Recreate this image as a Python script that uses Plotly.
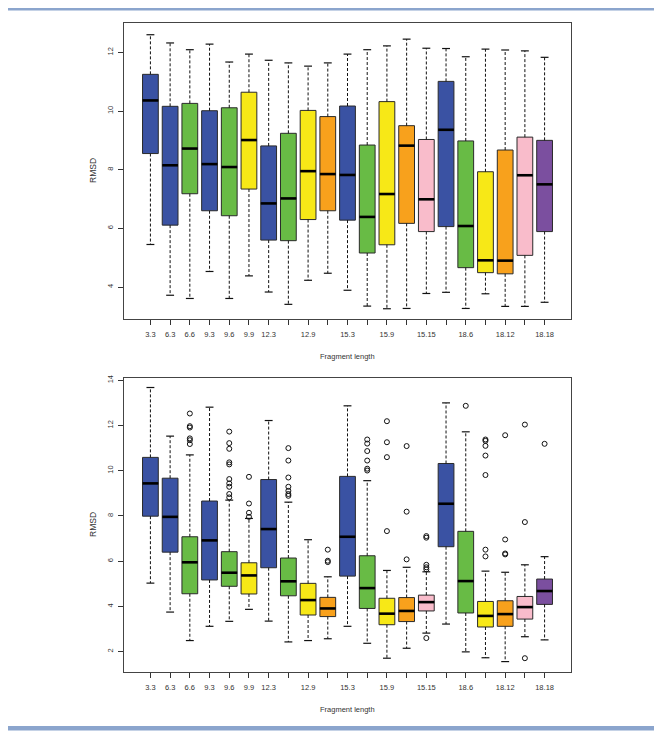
import plotly.graph_objects as go

categories = ["3.3", "6.3", "6.6", "9.3", "9.6", "9.9", "12.3", "12.6", "12.9", "12.12",
              "15.3", "15.6", "15.9", "15.12", "15.15", "18.3", "18.6", "18.9", "18.12",
              "18.15", "18.18"]
tick_labels = ["3.3", "6.3", "6.6", "9.3", "9.6", "9.9", "12.3", "", "12.9", "",
               "15.3", "", "15.9", "", "15.15", "", "18.6", "", "18.12", "", "18.18"]

# Top panel
top_low = [5.45, 3.72, 3.61, 4.53, 3.61, 4.38, 3.83, 3.41, 4.23, 4.47, 3.89, 3.35, 3.26, 3.27,
           3.78, 3.82, 3.27, 3.77, 3.34, 3.34, 3.48]
top_q1 = [8.55, 6.11, 7.18, 6.60, 6.43, 7.34, 5.60, 5.58, 6.30, 6.60, 6.28, 5.16, 5.44, 6.17,
          5.89, 6.06, 4.66, 4.49, 4.45, 5.08, 5.89]
top_med = [10.36, 8.15, 8.72, 8.19, 8.09, 9.01, 6.85, 7.02, 7.95, 7.85, 7.82, 6.39, 7.17, 8.82,
           6.99, 9.36, 6.08, 4.91, 4.90, 7.81, 7.50]
top_q3 = [11.25, 10.16, 10.26, 10.01, 10.11, 10.64, 8.81, 9.24, 10.02, 9.81, 10.17, 8.84, 10.32,
          9.50, 9.03, 11.01, 8.98, 7.93, 8.67, 9.11, 9.00]
top_high = [12.60, 12.32, 12.09, 12.28, 11.67, 11.94, 11.73, 11.64, 11.53, 11.64, 11.94, 12.09,
            12.22, 12.45, 12.14, 12.13, 11.85, 12.11, 12.08, 12.05, 11.83]

# Bottom panel
bot_low = [5.03, 3.75, 2.49, 3.12, 3.34, 3.87, 3.35, 2.43, 2.49, 2.57, 3.12, 2.37, 1.71, 2.15,
           2.82, 3.22, 1.99, 1.73, 1.56, 2.66, 2.52]
bot_q1 = [7.99, 6.40, 4.56, 5.17, 4.89, 4.55, 5.71, 4.47, 3.62, 3.55, 5.34, 3.91, 3.19, 3.33,
          3.80, 6.64, 3.71, 3.09, 3.12, 3.44, 4.09]
bot_med = [9.44, 7.96, 5.95, 6.92, 5.49, 5.37, 7.42, 5.11, 4.28, 3.91, 7.08, 4.81, 3.68, 3.80,
           4.19, 8.54, 5.12, 3.58, 3.66, 3.97, 4.68]
bot_q3 = [10.59, 9.67, 7.08, 8.66, 6.42, 5.93, 9.61, 6.14, 5.02, 4.40, 9.75, 6.24, 4.36, 4.39,
          4.50, 10.32, 7.32, 4.22, 4.25, 4.44, 5.21]
bot_high = [13.68, 11.53, 10.70, 12.81, 8.70, 7.89, 12.22, 8.61, 6.95, 5.31, 12.87, 9.56, 5.59,
            5.73, 5.53, 13.00, 11.72, 5.56, 5.51, 5.84, 6.20]
bot_outliers = [
    [], [], [12.53, 11.97, 11.91, 11.43, 11.35, 11.18], [],
    [11.73, 11.22, 10.97, 10.37, 10.28, 9.63, 9.44, 9.29, 8.97, 8.82],
    [9.73, 8.55, 8.14, 7.96], [],
    [11.00, 10.45, 9.70, 9.29, 9.11, 8.97, 8.89], [], [6.51, 6.02, 5.96], [],
    [11.38, 11.20, 10.87, 10.45, 10.09, 10.01], [12.19, 11.26, 10.60, 7.33],
    [11.09, 8.19, 6.08], [7.11, 7.04, 5.84, 5.73, 5.64, 2.60], [], [12.87],
    [11.38, 11.32, 11.10, 10.67, 9.81, 6.51, 6.21], [11.57, 6.96, 6.34, 6.30],
    [12.04, 7.73, 1.71], [11.19],
]

group_colors = {"3": "#3a52a3", "6": "#68bb45", "9": "#f7e817", "12": "#f8a11c",
                "15": "#f9bccb", "18": "#7b4f9f"}

FONT = "Liberation Sans, Arial, sans-serif"
TXT = "#333333"
BOXW = 0.8

fig = go.Figure()


def add_panel(xa, ya, low, q1, med, q3, high, outliers=None):
    xs = list(range(1, len(categories) + 1))
    for key, col in group_colors.items():
        idx = [i for i, c in enumerate(categories) if c.split(".")[1] == key]
        fig.add_trace(go.Box(
            x=[xs[i] for i in idx], q1=[q1[i] for i in idx], median=[med[i] for i in idx],
            q3=[q3[i] for i in idx], lowerfence=[q1[i] for i in idx],
            upperfence=[q3[i] for i in idx], width=BOXW, whiskerwidth=0,
            fillcolor=col, line=dict(color="#2a2a2a", width=1), boxpoints=False,
            xaxis=xa, yaxis=ya, showlegend=False, hoverinfo="skip"))
    wx, wy = [], []
    sx, sy = [], []
    mx, my = [], []
    for i, x in enumerate(xs):
        wx += [x, x, None, x, x, None]
        wy += [q3[i], high[i], None, q1[i], low[i], None]
        sx += [x - BOXW / 4, x + BOXW / 4, None, x - BOXW / 4, x + BOXW / 4, None]
        sy += [high[i], high[i], None, low[i], low[i], None]
        mx += [x - BOXW / 2, x + BOXW / 2, None]
        my += [med[i], med[i], None]
    fig.add_trace(go.Scatter(x=wx, y=wy, mode="lines", xaxis=xa, yaxis=ya,
                             line=dict(color="#111111", width=1, dash="3px,2px"),
                             showlegend=False, hoverinfo="skip"))
    fig.add_trace(go.Scatter(x=sx, y=sy, mode="lines", xaxis=xa, yaxis=ya,
                             line=dict(color="#111111", width=1.2),
                             showlegend=False, hoverinfo="skip"))
    fig.add_trace(go.Scatter(x=mx, y=my, mode="lines", xaxis=xa, yaxis=ya,
                             line=dict(color="#000000", width=2.6),
                             showlegend=False, hoverinfo="skip"))
    if outliers:
        ox, oy = [], []
        for i, vals in enumerate(outliers):
            for v in vals:
                ox.append(xs[i])
                oy.append(v)
        fig.add_trace(go.Scatter(x=ox, y=oy, mode="markers", xaxis=xa, yaxis=ya,
                                 marker=dict(symbol="circle-open", size=5, color="#111111",
                                             line=dict(width=1)),
                                 showlegend=False, hoverinfo="skip"))


add_panel("x", "y", top_low, top_q1, top_med, top_q3, top_high)
add_panel("x2", "y2", bot_low, bot_q1, bot_med, bot_q3, bot_high, bot_outliers)

xaxis_common = dict(
    range=[-0.34, 22.34], tickmode="array", tickvals=list(range(1, 22)), ticktext=tick_labels,
    ticks="outside", ticklen=5, tickcolor="#333333", tickwidth=1, showgrid=False,
    zeroline=False, showline=True, mirror=True, linecolor="#444444", linewidth=1,
    tickfont=dict(family=FONT, size=7.5, color=TXT), ticklabelstandoff=3,
)
yaxis_common = dict(
    ticks="outside", ticklen=5, tickcolor="#333333", tickwidth=1, showgrid=False,
    zeroline=False, showline=True, mirror=True, linecolor="#444444", linewidth=1,
    tickangle=-90, tickfont=dict(family=FONT, size=7.5, color=TXT), ticklabelstandoff=2,
)

# The page body adds an 8px offset, so the figure is 8px smaller with 8px less left/top margin.
fig.update_layout(
    width=654, height=729, paper_bgcolor="white", plot_bgcolor="white",
    margin=dict(l=116, r=91, t=15, b=65),
    xaxis=dict(domain=[0, 1], anchor="y", **xaxis_common),
    yaxis=dict(domain=[0.5439, 1], anchor="x", range=[2.91, 13.0],
               tickvals=[4, 6, 8, 10, 12], **yaxis_common),
    xaxis2=dict(domain=[0, 1], anchor="y2", **xaxis_common),
    yaxis2=dict(domain=[0, 0.453], anchor="x2", range=[1.1, 14.1],
                tickvals=[2, 4, 6, 8, 10, 12, 14], **yaxis_common),
    boxmode="overlay",
)

for xd, yd in (("x domain", "y domain"), ("x2 domain", "y2 domain")):
    fig.add_annotation(text="Fragment length", xref=xd, yref=yd, x=0.5, y=0, yshift=-31,
                       xanchor="center", yanchor="top", showarrow=False,
                       font=dict(family=FONT, size=7.5, color=TXT))
    fig.add_annotation(text="RMSD", xref=xd, yref=yd, x=0, y=0.5, xshift=-31,
                       xanchor="center", yanchor="middle", textangle=-90, showarrow=False,
                       font=dict(family=FONT, size=8.5, color=TXT))

# decorative page rules (top and bottom), positioned relative to the plot area
BAR = "#8ba5cd"
pw = 662 - 124 - 91
ph = 737 - 23 - 65
for top_px, bot_px in ((6, 10.5), (726, 730.5)):
    fig.add_shape(type="rect", xref="paper", yref="paper",
                  x0=(6 - 124) / pw, x1=(657 - 124) / pw,
                  y0=(672 - bot_px) / ph, y1=(672 - top_px) / ph,
                  fillcolor=BAR, line=dict(width=0), layer="below")

fig.write_html("out.html")
